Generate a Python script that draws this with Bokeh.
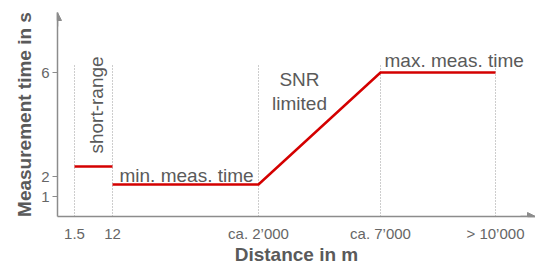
import math
from bokeh.plotting import figure
from bokeh.models import Range1d, FixedTicker, Arrow, NormalHead
from bokeh.core.properties import value
from bokeh.embed import file_html
from bokeh.resources import INLINE

# Schematic axes: positions along the (non-linear) axes and their labels
x_tick_pos = [17, 55, 201, 323, 438]
x_tick_labels = ["1.5", "12", "ca. 2\u2019000", "ca. 7\u2019000", "> 10\u2019000"]
y_tick_pos = [20, 40, 144]
y_tick_labels = ["1", "2", "6"]

# Measurement-time profile (schematic y positions)
short_range_x = [17, 55]
short_range_y = [50, 50]
profile_x = [55, 201, 323, 438]
profile_y = [32, 32, 144, 144]
guide_top = 153

FONT = "Liberation Sans"
GRAY_T = "#5a5a5a"
AX = "#8c8c8c"
RED = "#d40000"

p = figure(width=535, height=268, output_backend="svg", toolbar_location=None,
           x_range=Range1d(0, 478), y_range=Range1d(0, 204),
           min_border_left=57, min_border_right=0, min_border_top=12, min_border_bottom=52)
p.outline_line_color = None
p.xgrid.visible = False
p.ygrid.visible = False
p.background_fill_color = "white"
p.border_fill_color = "white"

# axes
p.xaxis.ticker = FixedTicker(ticks=x_tick_pos, minor_ticks=[])
p.xaxis.major_label_overrides = {k: v for k, v in zip(x_tick_pos, x_tick_labels)}
p.yaxis.ticker = FixedTicker(ticks=y_tick_pos, minor_ticks=[])
p.yaxis.major_label_overrides = {k: v for k, v in zip(y_tick_pos, y_tick_labels)}
for ax in (p.xaxis, p.yaxis):
    ax.axis_line_color = AX
    ax.axis_line_width = 1.5
    ax.major_tick_line_color = AX
    ax.major_tick_in = 0
    ax.minor_tick_line_color = None
    ax.major_label_text_font = FONT
    ax.major_label_text_font_size = "15px"
    ax.major_label_text_color = "#666666"
    ax.axis_label_text_font = FONT
    ax.axis_label_text_font_size = "19px"
    ax.axis_label_text_font_style = "bold"
    ax.axis_label_text_color = GRAY_T
p.xaxis.major_tick_out = 0
p.xaxis.major_label_standoff = 8
p.xaxis.axis_label = "Distance in m"
p.xaxis.axis_label_standoff = -1
p.yaxis.major_tick_out = 5
p.yaxis.major_label_standoff = 3
p.yaxis.axis_label = "Measurement time in s"
p.yaxis.axis_label_standoff = 3

# arrowheads
p.add_layout(Arrow(end=NormalHead(size=8, fill_color=AX, line_color=AX), line_color=AX,
                   line_width=1.5, x_start=0, y_start=190, x_end=0, y_end=204))
p.add_layout(Arrow(end=NormalHead(size=8, fill_color=AX, line_color=AX), line_color=AX,
                   line_width=1.5, x_start=463, y_start=0, x_end=478, y_end=0))

# dotted guides
p.segment(x0=x_tick_pos, y0=[0] * len(x_tick_pos), x1=x_tick_pos, y1=[guide_top] * len(x_tick_pos),
          line_color="#9a9a9a", line_width=1, line_dash="1 2")

# profile
p.line(short_range_x, short_range_y, line_color=RED, line_width=2.6)
p.line(profile_x, profile_y, line_color=RED, line_width=2.6, line_join="miter")

# annotations
txt = dict(text_font=value(FONT), text_font_size="19px", text_color=GRAY_T)
p.text(x=[(short_range_x[0] + short_range_x[1]) / 2 + 3], y=[111.5], text=["short-range"],
       angle=math.pi / 2, text_align="center", text_baseline="middle", **txt)
p.text(x=[profile_x[0]], y=[profile_y[0]], text=["min. meas. time"], x_offset=7, y_offset=-9,
       text_align="left", text_baseline="alphabetic", **txt)
p.text(x=[(profile_x[1] + profile_x[2]) / 2 - 20], y=[125], text=["SNR\nlimited"],
       text_align="center", text_baseline="middle", text_line_height=1.15, **txt)
p.text(x=[profile_x[2]], y=[profile_y[2]], text=["max. meas. time"], x_offset=4, y_offset=-12,
       text_align="left", text_baseline="alphabetic", **txt)

open("out.html", "w").write(file_html(p, INLINE))
